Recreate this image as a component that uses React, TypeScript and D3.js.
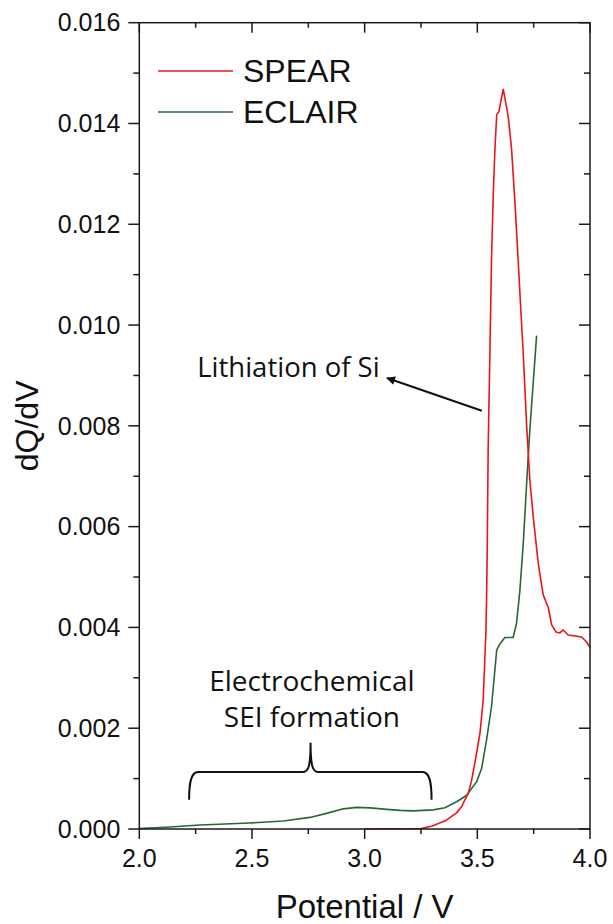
import React, { useEffect, useRef } from "react";
import * as d3 from "d3";

// SPEAR dQ/dV curve (potential in V, dQ/dV)
const spearV: number[] = [
  3.0, 3.25, 3.3, 3.347, 3.364, 3.408, 3.43, 3.445, 3.46, 3.475, 3.497, 3.512,
  3.526, 3.538, 3.541, 3.544, 3.548, 3.556, 3.563, 3.571, 3.578, 3.586, 3.596,
  3.615, 3.637, 3.652, 3.667, 3.681, 3.697, 3.704, 3.719, 3.733, 3.748, 3.77,
  3.792, 3.815, 3.83, 3.849, 3.866, 3.881, 3.903, 3.933, 3.963, 3.985, 4.0,
];
const spearD: number[] = [
  0.0, 0.00001, 0.00006, 0.000145, 0.00018, 0.00032, 0.00044, 0.00058, 0.00071,
  0.00097, 0.00151, 0.00191, 0.00256, 0.00389, 0.00455, 0.00554, 0.00752,
  0.00951, 0.0113, 0.01263, 0.01348, 0.01417, 0.01424, 0.01468, 0.01414,
  0.01349, 0.01243, 0.0113, 0.00997, 0.00941, 0.00799, 0.00693, 0.0062,
  0.00528, 0.00465, 0.00439, 0.00405, 0.00391, 0.00389, 0.00395, 0.00385,
  0.00383, 0.00381, 0.00371, 0.0036,
];

// ECLAIR dQ/dV curve
const eclairV: number[] = [
  2.0, 2.136, 2.269, 2.491, 2.639, 2.757, 2.831, 2.905, 2.965, 3.024, 3.098,
  3.157, 3.216, 3.304, 3.356, 3.408, 3.453, 3.497, 3.519, 3.541, 3.563, 3.586,
  3.597, 3.622, 3.659, 3.674, 3.689, 3.704, 3.719, 3.733, 3.748, 3.763,
];
const eclairD: number[] = [
  0.00001, 0.00004, 0.00008, 0.00012, 0.00016, 0.00023, 0.00031, 0.0004,
  0.00043, 0.00042, 0.00039, 0.00037, 0.00036, 0.00038, 0.00042, 0.00054,
  0.00067, 0.00094, 0.0012, 0.00177, 0.00243, 0.00355, 0.00365, 0.0038,
  0.0038, 0.00408, 0.00474, 0.00568, 0.00687, 0.00792, 0.00885, 0.00979,
];

const xTicks: number[] = [2.0, 2.5, 3.0, 3.5, 4.0];
const xMinor: number[] = [2.25, 2.75, 3.25, 3.75];
const yTicks: number[] = [0, 0.002, 0.004, 0.006, 0.008, 0.01, 0.012, 0.014, 0.016];
const yMinor: number[] = [0.001, 0.003, 0.005, 0.007, 0.009, 0.011, 0.013, 0.015];

const seriesNames: string[] = ["SPEAR", "ECLAIR"];
const seriesColors: string[] = ["#e8161c", "#26673a"];

const App: React.FC = () => {
  const svgRef = useRef<SVGSVGElement>(null);

  useEffect(() => {
    if (!svgRef.current) return;
    const svg = d3.select(svgRef.current);
    svg.selectAll("*").remove();

    const left = 139.3;
    const right = 590;
    const top = 22.7;
    const bottom = 829;
    const axisColor = "#1a1a1a";
    const tickFont = "Liberation Sans, Arial, sans-serif";
    const noteFont = "Open Sans, Noto Sans, sans-serif";

    const x = d3.scaleLinear().domain([2, 4]).range([left, right]);
    const y = d3.scaleLinear().domain([0, 0.016]).range([bottom, top]);

    const line = d3
      .line<[number, number]>()
      .x((d) => x(d[0]))
      .y((d) => y(d[1]));

    const series: [number, number][][] = [
      spearV.map((v, i) => [v, spearD[i]]),
      eclairV.map((v, i) => [v, eclairD[i]]),
    ];

    // curves (ECLAIR under SPEAR)
    [1, 0].forEach((k) => {
      svg
        .append("path")
        .attr("d", line(series[k]))
        .attr("fill", "none")
        .attr("stroke", seriesColors[k])
        .attr("stroke-width", 1.6)
        .attr("stroke-linejoin", "round");
    });

    // frame
    svg
      .append("rect")
      .attr("x", left)
      .attr("y", top)
      .attr("width", right - left)
      .attr("height", bottom - top)
      .attr("fill", "none")
      .attr("stroke", axisColor)
      .attr("stroke-width", 1.5);

    const ticks = svg.append("g").attr("stroke", axisColor).attr("stroke-width", 1.5);
    const addXTicks = (vals: number[], len: number) => {
      vals.forEach((v) => {
        ticks.append("line").attr("x1", x(v)).attr("x2", x(v)).attr("y1", bottom).attr("y2", bottom + len);
        ticks.append("line").attr("x1", x(v)).attr("x2", x(v)).attr("y1", top).attr("y2", top + len);
      });
    };
    const addYTicks = (vals: number[], len: number) => {
      vals.forEach((v) => {
        ticks.append("line").attr("x1", left - len).attr("x2", left).attr("y1", y(v)).attr("y2", y(v));
        ticks.append("line").attr("x1", right - len).attr("x2", right).attr("y1", y(v)).attr("y2", y(v));
      });
    };
    addXTicks(xTicks, 10);
    addXTicks(xMinor, 5);
    addYTicks(yTicks, 11);
    addYTicks(yMinor, 6);

    svg
      .append("g")
      .selectAll("text")
      .data(xTicks)
      .enter()
      .append("text")
      .attr("x", (d) => x(d))
      .attr("y", bottom + 38)
      .attr("text-anchor", "middle")
      .style("font-family", tickFont)
      .style("font-size", "25px")
      .attr("fill", "#111")
      .text((d) => d.toFixed(1));

    svg
      .append("g")
      .selectAll("text")
      .data(yTicks)
      .enter()
      .append("text")
      .attr("x", left - 19)
      .attr("y", (d) => y(d))
      .attr("dy", "0.35em")
      .attr("text-anchor", "end")
      .style("font-family", tickFont)
      .style("font-size", "25px")
      .attr("fill", "#111")
      .text((d) => d.toFixed(3));

    // axis titles
    svg
      .append("text")
      .attr("x", (left + right) / 2)
      .attr("y", 918)
      .attr("text-anchor", "middle")
      .style("font-family", tickFont)
      .style("font-size", "33px")
      .attr("fill", "#111")
      .text("Potential / V");

    svg
      .append("text")
      .attr("transform", `translate(38,${(top + bottom) / 2}) rotate(-90)`)
      .attr("text-anchor", "middle")
      .style("font-family", tickFont)
      .style("font-size", "32px")
      .attr("fill", "#111")
      .text("dQ/dV");

    // legend
    seriesNames.forEach((name, i) => {
      const ly = 71 + i * 41;
      svg
        .append("line")
        .attr("x1", 158)
        .attr("x2", 233)
        .attr("y1", ly)
        .attr("y2", ly)
        .attr("stroke", seriesColors[i])
        .attr("stroke-width", 1.6);
      svg
        .append("text")
        .attr("x", 243)
        .attr("y", ly + 11)
        .style("font-family", tickFont)
        .style("font-size", "32px")
        .attr("fill", "#111")
        .text(name);
    });

    // "Lithiation of Si" arrow
    svg
      .append("defs")
      .append("marker")
      .attr("id", "arrowHead")
      .attr("viewBox", "0 0 10 10")
      .attr("refX", 9)
      .attr("refY", 5)
      .attr("markerWidth", 9)
      .attr("markerHeight", 9)
      .attr("markerUnits", "userSpaceOnUse")
      .attr("orient", "auto")
      .append("path")
      .attr("d", "M0,0 L10,5 L0,10 z")
      .attr("fill", "#111");

    svg
      .append("line")
      .attr("x1", x(3.52))
      .attr("y1", y(0.0083))
      .attr("x2", x(3.099))
      .attr("y2", y(0.00895))
      .attr("stroke", "#111")
      .attr("stroke-width", 2)
      .attr("marker-end", "url(#arrowHead)");

    svg
      .append("text")
      .attr("x", x(2.257))
      .attr("y", y(0.00897))
      .style("font-family", noteFont)
      .style("font-size", "27.5px")
      .attr("fill", "#111")
      .text("Lithiation of Si");

    // SEI brace
    const bL = x(2.221);
    const bR = x(3.297);
    const bM = x(2.76);
    const yEnd = y(0.00058);
    const yLine = y(0.00113);
    const yPeak = y(0.00171);
    const brace = d3.path();
    brace.moveTo(bL, yEnd);
    brace.bezierCurveTo(bL, yLine + 10, bL + 2, yLine, bL + 9, yLine);
    brace.lineTo(bM - 8, yLine);
    brace.bezierCurveTo(bM - 2, yLine, bM, yLine - 6, bM, yPeak);
    brace.bezierCurveTo(bM, yLine - 6, bM + 2, yLine, bM + 8, yLine);
    brace.lineTo(bR - 9, yLine);
    brace.bezierCurveTo(bR - 2, yLine, bR, yLine + 10, bR, yEnd);
    svg
      .append("path")
      .attr("d", brace.toString())
      .attr("fill", "none")
      .attr("stroke", "#111")
      .attr("stroke-width", 2);

    ["Electrochemical", "SEI formation"].forEach((t, i) => {
      svg
        .append("text")
        .attr("x", x(2.766))
        .attr("y", y(i === 0 ? 0.00274 : 0.00202))
        .attr("text-anchor", "middle")
        .style("font-family", noteFont)
        .style("font-size", "28px")
        .attr("fill", "#111")
        .text(t);
    });
  }, []);

  return (
    <svg
      ref={svgRef}
      width={613}
      height={924}
      style={{ position: "absolute", left: 0, top: 0, background: "#fff" }}
    />
  );
};

export default App;
